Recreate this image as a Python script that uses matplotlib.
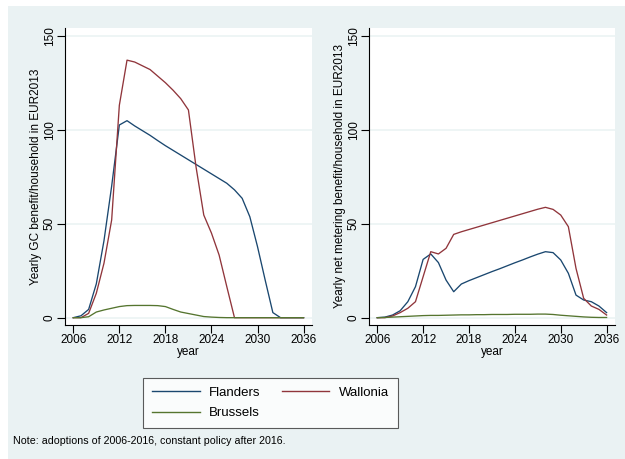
import matplotlib
matplotlib.use("Agg")
import matplotlib.pyplot as plt
from matplotlib import patches
from matplotlib.lines import Line2D

# Stata s2color look
NAVY = "#1a476f"
MAROON = "#90353b"
FOREST = "#55752f"
REGION = "#eaf2f3"
GRID = "#eaf2f3"

plt.rcParams["font.family"] = ["Liberation Sans", "DejaVu Sans"]

years = list(range(2006, 2037))

# Yearly green-certificate benefit per household (EUR2013)
gc_flanders = [0, 1, 4.4, 18, 41, 70, 102.5, 104.8, 102, 99.5, 97, 94.2, 91.5,
               89, 86.5, 84, 81.5, 79, 76.5, 74, 71.5, 68, 63.5, 53.7, 37.8,
               20, 2.7, 0, 0, 0, 0]
gc_wallonia = [0, 0, 2.3, 13, 29, 52, 113, 137, 136, 134, 132, 128.5, 125,
               121, 116.5, 110.5, 80, 54.6, 45, 33.3, 16.5, 0, 0, 0, 0,
               0, 0, 0, 0, 0, 0]
gc_brussels = [0, 0, 0.5, 3, 4.1, 5, 5.9, 6.4, 6.5, 6.5, 6.5, 6.4, 5.9,
               4.4, 3, 2.2, 1.4, 0.6, 0.3, 0.1, 0, 0, 0, 0, 0,
               0, 0, 0, 0, 0, 0]

# Yearly net metering benefit per household (EUR2013)
nm_flanders = [0, 0.3, 1.4, 3.7, 8.5, 16.5, 31, 33.9, 29.3, 20, 13.8, 17.9,
               19.7, 21.3, 22.9, 24.5, 26, 27.6, 29.2, 30.7, 32.3, 33.8, 35.1,
               34.6, 30.7, 23.6, 12, 9.4, 8.5, 6.2, 2.7]
nm_wallonia = [0, 0, 0.9, 2.7, 5, 8.5, 21.8, 35.1, 33.9, 36.9, 44.3, 45.7,
               46.9, 48.1, 49.3, 50.5, 51.7, 52.9, 54.1, 55.3, 56.5, 57.7, 58.7,
               57.6, 54.6, 48.4, 26.2, 10.3, 6.2, 4.4, 1.4]
nm_brussels = [0, 0.1, 0.3, 0.5, 0.7, 0.9, 1.1, 1.2, 1.2, 1.3, 1.4, 1.5, 1.5,
               1.6, 1.6, 1.7, 1.7, 1.7, 1.8, 1.8, 1.8, 1.9, 1.9, 1.7, 1.3,
               1.0, 0.7, 0.4, 0.2, 0.1, 0.1]

xticks = [2006, 2012, 2018, 2024, 2030, 2036]
yticks = [0, 50, 100, 150]

W, H = 625, 459
fig = plt.figure(figsize=(W / 100, H / 100), dpi=100, facecolor="white")

# graph region backdrop, kept beneath the axes
fig.patches.append(patches.Rectangle((8 / W, 0), 1 - 8 / W, (H - 6) / H,
                                     transform=fig.transFigure,
                                     facecolor=REGION, edgecolor="none",
                                     zorder=-5))


def panel(left_px, right_px, series, ylabel):
    width_px = right_px - left_px
    ax = fig.add_axes([left_px / W, (H - 325) / H, width_px / W, 297 / H])
    ax.set_facecolor("white")
    for y in yticks:
        ax.axhline(y, color=GRID, linewidth=1.1, zorder=1)
    for vals, col in series:
        ax.plot(years, vals, color=col, linewidth=0.95, zorder=3)
    ax.set_xlim(2004.92, 2037.1)
    ax.set_ylim(-3.9, 154.1)
    ax.set_xticks(xticks)
    ax.set_yticks(yticks)
    ax.tick_params(axis="both", direction="out", length=5.5, width=0.8,
                   color="black", labelsize=8.5, pad=1)
    for lab in ax.get_yticklabels():
        lab.set_rotation(90)
        lab.set_va("center")
    for s in ["top", "right"]:
        ax.spines[s].set_visible(False)
    for s in ["left", "bottom"]:
        ax.spines[s].set_linewidth(0.8)
    ax.set_xlabel("year", fontsize=8.5, labelpad=0)
    ax.set_ylabel(ylabel, fontsize=8.5)
    ax.yaxis.set_label_coords(-23 / width_px, 0.5)
    return ax


panel(65, 312, [(gc_flanders, NAVY), (gc_wallonia, MAROON),
                (gc_brussels, FOREST)],
      "Yearly GC benefit/household in EUR2013")
panel(369, 615, [(nm_flanders, NAVY), (nm_wallonia, MAROON),
                 (nm_brussels, FOREST)],
      "Yearly net metering benefit/household in EUR2013")

handles = [Line2D([], [], color=NAVY, linewidth=1),
           Line2D([], [], color=FOREST, linewidth=1),
           Line2D([], [], color=MAROON, linewidth=1)]
labels = ["Flanders", "Brussels", "Wallonia"]
leg = fig.legend(handles, labels, ncol=2, loc="center",
                 bbox_to_anchor=(270.5 / W, (H - 403) / H),
                 fontsize=9.5, frameon=True, fancybox=False,
                 edgecolor="#333333", facecolor="white",
                 handlelength=3.6, handletextpad=0.7, columnspacing=1.6,
                 labelspacing=0.6, borderpad=0.7, borderaxespad=0)
leg.get_frame().set_linewidth(0.8)

fig.text(13 / W, (H - 441) / H,
         "Note: adoptions of 2006-2016, constant policy after 2016.",
         fontsize=7.7, va="center", ha="left")

fig.savefig("out.png", dpi=100, facecolor="white")
